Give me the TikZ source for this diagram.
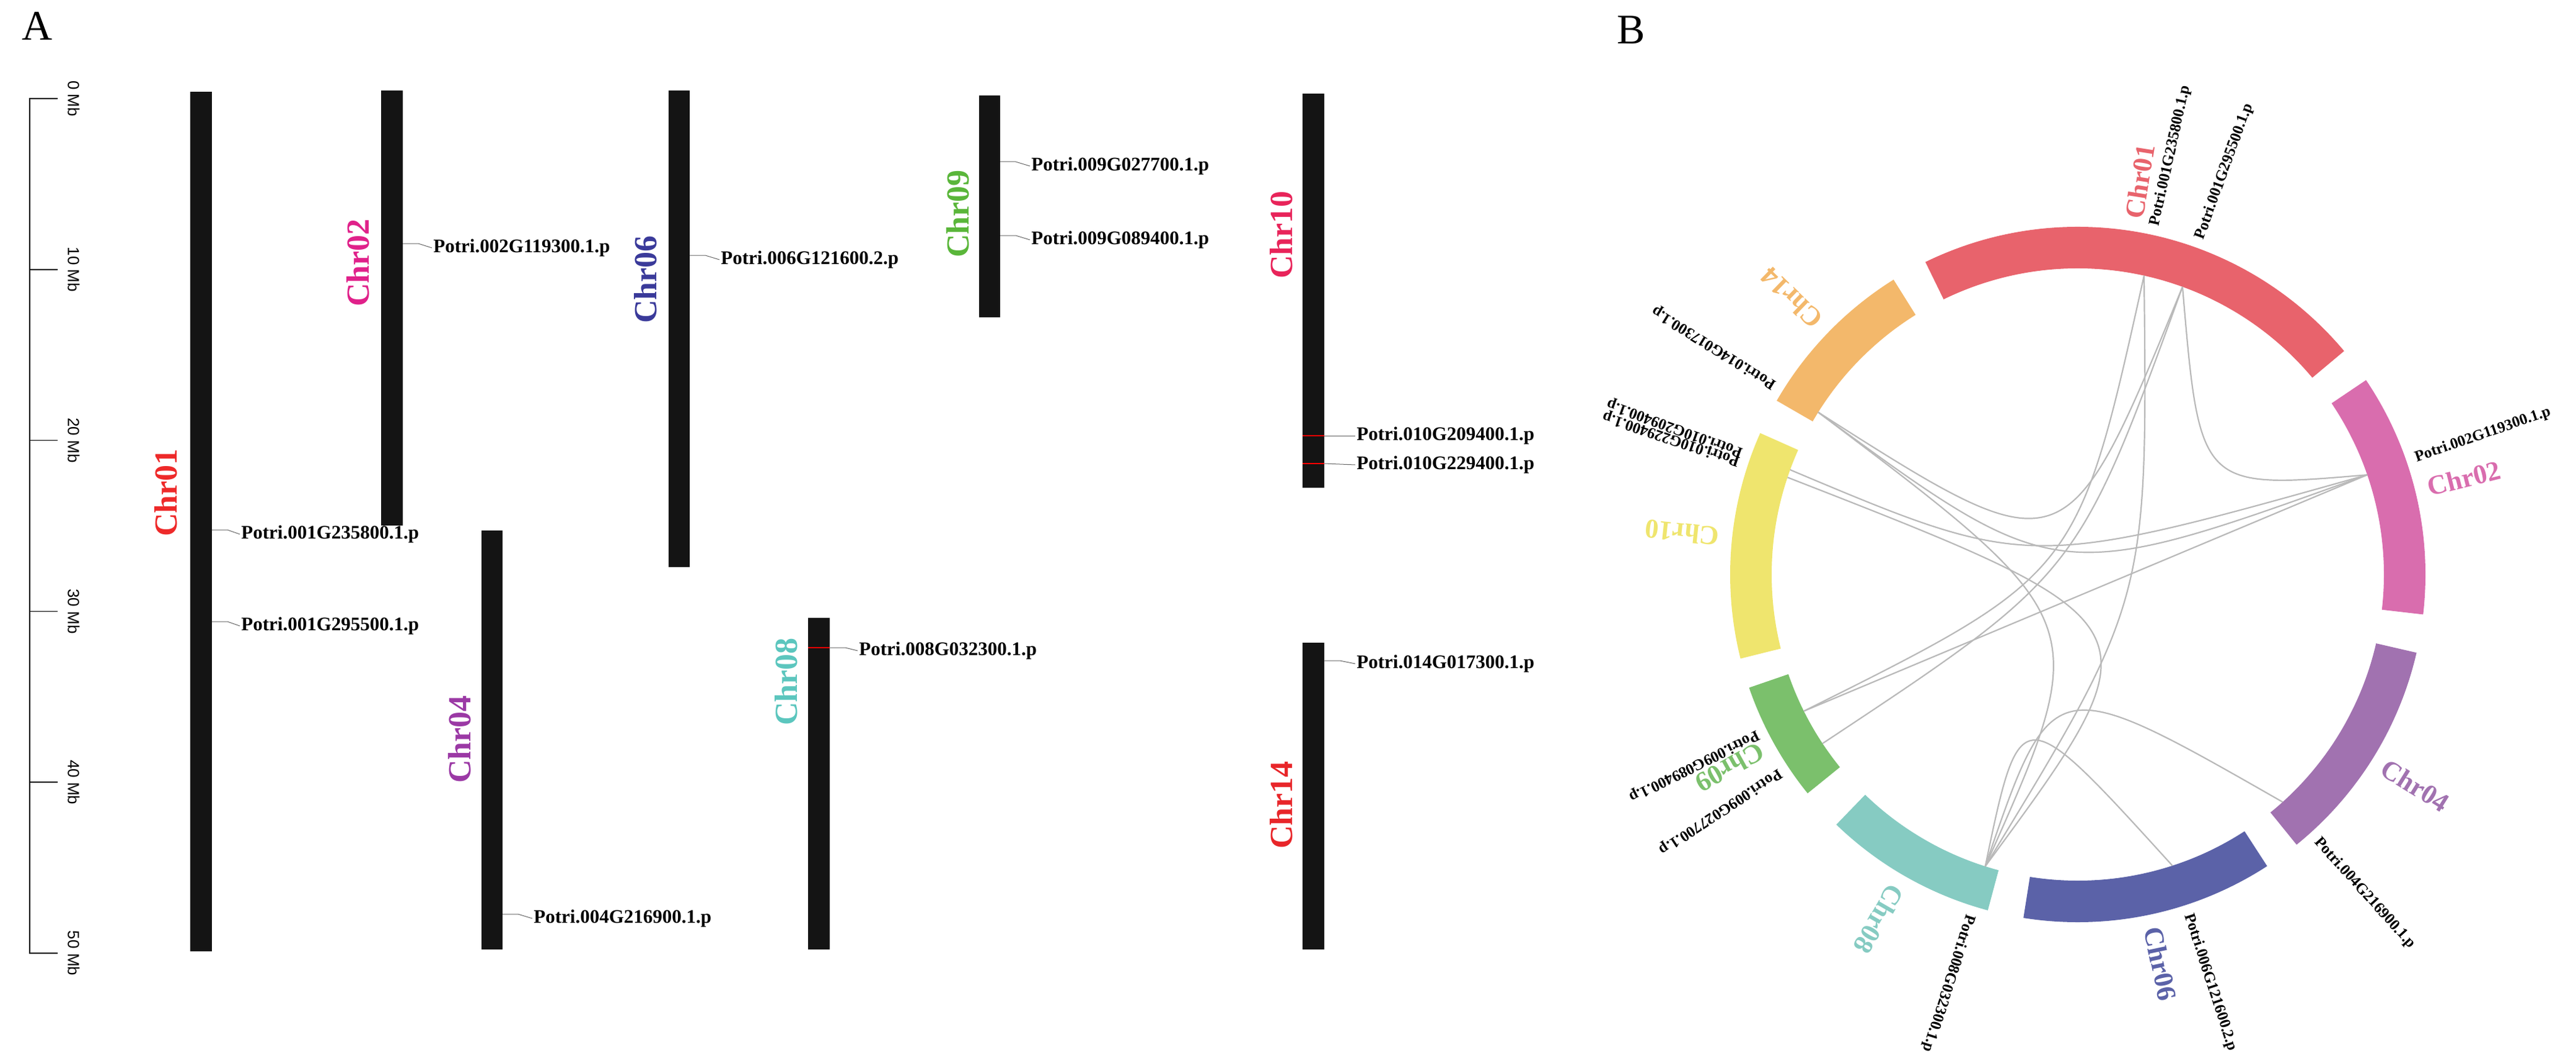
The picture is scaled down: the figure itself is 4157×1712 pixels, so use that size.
\documentclass[tikz,border=0pt]{standalone}
\usepackage{fontspec}
\setmainfont{Liberation Serif}
\newfontfamily\scalefont{Liberation Sans}
\definecolor{c01}{HTML}{E8636C}\definecolor{c02}{HTML}{D96DAE}\definecolor{c04}{HTML}{A172B0}
\definecolor{c06}{HTML}{5B62A8}\definecolor{c08}{HTML}{86CBC2}\definecolor{c09}{HTML}{7BC06C}
\definecolor{c10}{HTML}{EFE56E}\definecolor{c14}{HTML}{F3B86B}
\definecolor{t01}{HTML}{EE2A2A}\definecolor{t02}{HTML}{E0218A}\definecolor{t06}{HTML}{3A3A9A}
\definecolor{t09}{HTML}{5AB63A}\definecolor{t10}{HTML}{E8245A}\definecolor{t04}{HTML}{9B39A5}
\definecolor{t08}{HTML}{5CC6BE}\definecolor{t14}{HTML}{E8262A}
\tikzset{
 bar/.style={fill=black!92},
 gA/.style={font=\bfseries\fontsize{15.5}{17}\selectfont, anchor=west, inner sep=1pt},
 chrA/.style={font=\bfseries\fontsize{26}{28}\selectfont, rotate=90, inner sep=0pt},
 gB/.style={font=\bfseries\fontsize{12.5}{14}\selectfont, anchor=west, inner sep=0pt},
 chrB/.style={font=\bfseries\fontsize{22}{24}\selectfont, inner sep=0pt},
 tick/.style={black!60, line width=0.5pt},
 rtick/.style={red, line width=0.8pt},
 link/.style={gray!55, line width=1.1pt},
 sc/.style={font=\scalefont\fontsize{13}{14}\selectfont, rotate=-90, inner sep=0pt}
}
\begin{document}
\begin{tikzpicture}[x=0.5pt,y=-0.5pt]
\useasboundingbox (0,0) rectangle (4157,1712);
\node[font=\fontsize{34}{36}\selectfont] (labA) at (60,42) {A};
\node[font=\fontsize{34}{36}\selectfont] (labB) at (2632,48) {B};
% scale
\draw[line width=0.8pt] (93,159) -- (48,159) -- (48,1538) -- (93,1538);
\foreach \k/\t in {0/0 Mb,1/10 Mb,2/20 Mb,3/30 Mb,4/40 Mb,5/50 Mb}{
  \draw[line width=0.8pt] (48,159+275.8*\k) -- (93,159+275.8*\k);
  \node[sc] (s\k) at (119,159+275.8*\k) {\t};}
% bars
\fill[bar] (307,148) rectangle (342,1535); \coordinate (b01) at (342,0);
\fill[bar] (615,146) rectangle (650,848); \coordinate (b02) at (650,0);
\fill[bar] (1079,146) rectangle (1113,915); \coordinate (b06) at (1113,0);
\fill[bar] (777,856) rectangle (811,1532); \coordinate (b04) at (811,0);
\fill[bar] (1580,154) rectangle (1614,512); \coordinate (b09) at (1614,0);
\fill[bar] (2102,151) rectangle (2137,787); \coordinate (b10) at (2137,0);
\fill[bar] (1304,997) rectangle (1339,1532); \coordinate (b08) at (1339,0);
\fill[bar] (2102,1037) rectangle (2137,1532); \coordinate (b14) at (2137,0);
% chr labels A
\node[chrA, text=t01] (C01) at (268,795) {Chr01};
\node[chrA, text=t02] (C02) at (578,424) {Chr02};
\node[chrA, text=t06] (C06) at (1042,451) {Chr06};
\node[chrA, text=t04] (C04) at (742,1193) {Chr04};
\node[chrA, text=t09] (C09) at (1546,345) {Chr09};
\node[chrA, text=t10] (C10) at (2068,379) {Chr10};
\node[chrA, text=t08] (C08) at (1269,1100) {Chr08};
\node[chrA, text=t14] (C14) at (2068,1299) {Chr14};
% gene labels A
\node[gA] (a1) at (387,862) {Potri.001G235800.1.p};
\node[gA] (a2) at (387,1010) {Potri.001G295500.1.p};
\node[gA] (a3) at (697,400) {Potri.002G119300.1.p};
\node[gA] (a4) at (859,1482) {Potri.004G216900.1.p};
\node[gA] (a5) at (1161,419) {Potri.006G121600.2.p};
\node[gA] (a6) at (1662,268) {Potri.009G027700.1.p};
\node[gA] (a7) at (1662,387) {Potri.009G089400.1.p};
\node[gA] (a8) at (2187,703) {Potri.010G209400.1.p};
\node[gA] (a9) at (2187,750) {Potri.010G229400.1.p};
\node[gA] (a10) at (1384,1050) {Potri.008G032300.1.p};
\node[gA] (a11) at (2187,1071) {Potri.014G017300.1.p};
\draw[tick] (b01 |- 0,855) -- ++(25,0) -- (a1.west);
\draw[tick] (b01 |- 0,1003) -- ++(25,0) -- (a2.west);
\draw[tick] (b02 |- 0,393) -- ++(25,0) -- (a3.west);
\draw[tick] (b04 |- 0,1475) -- ++(25,0) -- (a4.west);
\draw[tick] (b06 |- 0,412) -- ++(25,0) -- (a5.west);
\draw[tick] (b09 |- 0,261) -- ++(25,0) -- (a6.west);
\draw[tick] (b09 |- 0,380) -- ++(25,0) -- (a7.west);
\draw[tick] (b10 |- 0,703) -- (a8.west);
\draw[tick] (b10 |- 0,748) -- (a9.west);
\draw[tick] (b08 |- 0,1045) -- ++(25,0) -- (a10.west);
\draw[tick] (b14 |- 0,1066) -- ++(25,0) -- (a11.west);
\draw[rtick] (2102,703) -- (2137,703);
\draw[rtick] (2102,748) -- (2137,748);
\draw[rtick] (1304,1045) -- (1339,1045);
% panel B
\begin{scope}[shift={(3353,927)}, y=0.5pt]
\foreach \a/\b/\c in {116/40/c01, 34/-6.6/c02, -13/-51/c04, -57/-99/c06, -105/-134/c08, -141/-161/c09, -166/-204/c10, 150/122/c14}{
  \fill[\c] (\a:280.5pt) arc[start angle=\a, end angle=\b, radius=280.5pt] -- (\b:247pt) arc[start angle=\b, end angle=\a, radius=247pt] -- cycle;}
\foreach \n/\a/\c in {Chr01/81/c01, Chr02/14/c02, Chr04/-32/c04, Chr06/-78/c06, Chr08/-120/c08, Chr09/-151/c09, Chr10/174/c10, Chr14/136/c14}{
  \node[chrB, text=\c, rotate=\a] (B\n) at (\a:321pt) {\n};}
\foreach \i/\a/\t in {1/77.5/Potri.001G235800.1.p, 2/70/Potri.001G295500.1.p, 3/19/Potri.002G119300.1.p, 4/-48/Potri.004G216900.1.p, 5/-72/Potri.006G121600.2.p, 6/-107.6/Potri.008G032300.1.p, 7/-146.5/Potri.009G027700.1.p, 8/-153.5/Potri.009G089400.1.p, 9/160/Potri.010G209400.1.p, 10/161.5/Potri.010G229400.1.p, 11/148/Potri.014G017300.1.p}{
  \coordinate (g\i) at (\a:247pt);
  \node[gB, rotate=\a] (gl\i) at (\a:288pt) {\t};}
\coordinate (O) at (0,0);
\draw[link] (g1) .. controls (O) .. (g8);
\draw[link] (g2) .. controls (O) .. (g7);
\draw[link] (g2) .. controls (35:120pt) .. (g3);
\draw[link] (g1) .. controls (-20:60pt) .. (g6);
\draw[link] (g3) -- (g8);
\draw[link] (g3) .. controls (175:40pt) .. (g9);
\draw[link] (g3) .. controls (-150:20pt) .. (g11);
\draw[link] (g11) .. controls (-70:40pt) .. (g6);
\draw[link] (g10) .. controls (-30:80pt) .. (g6);
\draw[link] (g4) .. controls (-105:80pt) .. (g6);
\draw[link] (g5) .. controls (-115:110pt) .. (g6);
\draw[link] (g11) .. controls (160:10pt) .. (g2);
\end{scope}
\end{tikzpicture}
\end{document}
